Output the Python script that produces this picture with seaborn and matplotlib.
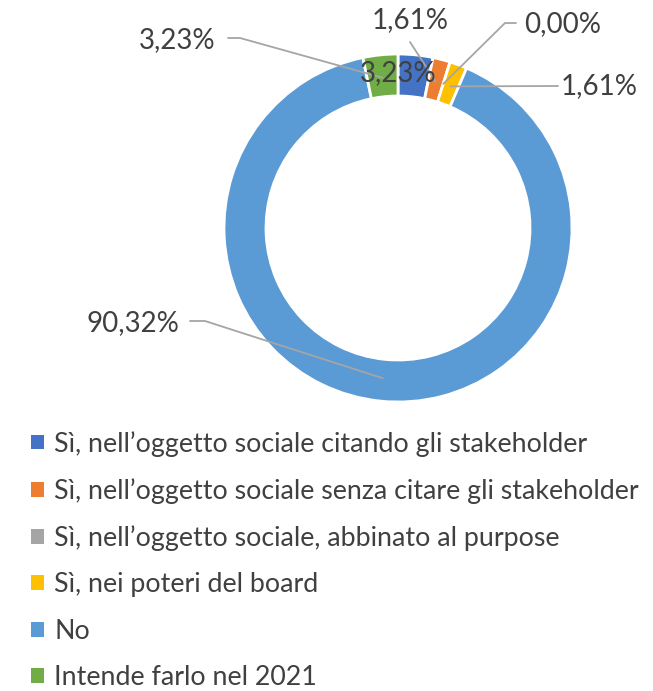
"""Donut chart: board/stakeholder answers, recreated with seaborn + matplotlib."""

import numpy as np
import matplotlib.pyplot as plt
import seaborn as sns
from matplotlib.patches import Patch

# --- Data ---
categories = [
    "Sì, nell\u2019oggetto sociale citando gli stakeholder",
    "Sì, nell\u2019oggetto sociale senza citare gli stakeholder",
    "Sì, nell\u2019oggetto sociale, abbinato al purpose",
    "Sì, nei poteri del board",
    "No",
    "Intende farlo nel 2021",
]
values = [3.23, 1.61, 0.00, 1.61, 90.32, 3.23]
value_labels = ["3,23%", "1,61%", "0,00%", "1,61%", "90,32%", "3,23%"]

colors = ["#4472C4", "#ED7D31", "#A5A5A5", "#FFC000", "#5B9BD5", "#70AD47"]

# --- Layout (pixels in a 653x691 canvas) ---
W, H = 653, 691
CX, CY, R, RING = 398, 228, 174, 42
TEXT = "#404040"
LEADER = "#A5A5A5"

# label centre, leader start and elbow (None = label sits on the ring, no leader)
label_pos = [(398, 73), (410, 20), (563, 24), (599, 86), (133, 323), (177, 40)]
leader_pts = [
    None,
    [(410, 42)],
    [(516, 23), (505, 23)],
    [(558, 86)],
    [(190, 321), (205, 321)],
    [(228, 38), (240, 38)],
]

sns.set_theme(style="white")
plt.rcParams["font.family"] = ["Lato", "DejaVu Sans"]

fig = plt.figure(figsize=(W / 100, H / 100), dpi=100)
ax = fig.add_axes([0, 0, 1, 1])


def fy(y):
    """Flip a pixel row to the axes' upward y."""
    return H - y


ax.pie(
    values,
    colors=colors,
    startangle=90,
    counterclock=False,
    center=(CX, fy(CY)),
    radius=R,
    wedgeprops=dict(width=RING, edgecolor="white", linewidth=2),
    frame=True,
)
ax.set_xlim(0, W)
ax.set_ylim(0, H)
ax.set_aspect("equal")
ax.axis("off")

# data labels with leader lines to the wedge middles
cum = np.cumsum([0] + values[:-1])
for v, c0, lab, pos, pts in zip(values, cum, value_labels, label_pos, leader_pts):
    theta = np.deg2rad(90 - (c0 + v / 2) * 3.6)
    tx = CX + (R - RING / 2 - 2) * np.cos(theta)
    ty = CY - (R - RING / 2 - 2) * np.sin(theta)
    if pts is not None:
        xs = [p[0] for p in pts] + [tx]
        ys = [fy(p[1]) for p in pts] + [fy(ty)]
        ax.plot(xs, ys, color=LEADER, lw=1.3, zorder=3)
    ax.text(pos[0], fy(pos[1]), lab, ha="center", va="center",
            fontsize=20, color=TEXT, zorder=4)

handles = [Patch(facecolor=c, edgecolor="none") for c in colors]
leg = fig.legend(
    handles,
    categories,
    loc="upper left",
    bbox_to_anchor=(12 / W, 1 - 412 / H),
    frameon=False,
    fontsize=19.3,
    handlelength=0.48,
    handleheight=0.48,
    handletextpad=0.4,
    labelspacing=0.8,
    borderpad=0.2,
    labelcolor=TEXT,
)

fig.savefig("out.png", dpi=100)
